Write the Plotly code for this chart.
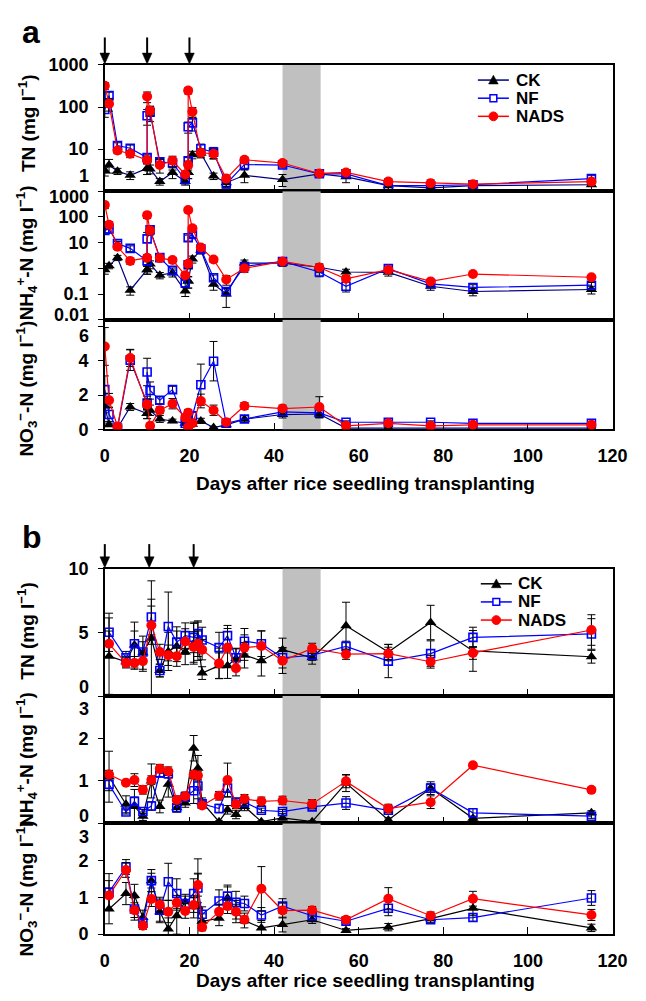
import plotly.graph_objects as go

W, H = 646, 1001

# ---------------- panel a data ----------------
days_a = [0, 1, 3, 6, 10, 10, 10.7, 13, 16, 19, 19.7, 19.7, 20.7, 22.7, 25.7, 28.7, 33, 42, 50.7, 57, 67, 77, 87, 115]

tn_a_ck = [3.1, 4.2, 3.0, 2.4, 3.5, 3.5, 3.4, 1.7, 2.8, 1.7, 2.8, 2.8, 7.4, 8.0, 2.3, 1.6, 2.4, 1.9, 2.6, 2.2, 1.36, 1.2, 1.36, 1.43]
tn_a_nf = [87, 186, 12.2, 10.5, 6.3, 62, 75, 5.0, 4.7, 1.9, 5.3, 34, 42, 10.2, 8.5, 1.5, 4.3, 4.2, 2.6, 2.6, 1.36, 1.36, 1.43, 2.0]
tn_a_nads = [320, 120, 9.3, 7.8, 5.5, 177, 82, 4.2, 5.3, 2.5, 4.2, 245, 77, 8.2, 7.8, 2.0, 5.6, 4.7, 2.65, 2.8, 1.7, 1.56, 1.48, 1.7]
tn_a_ck_err = [0.8, 1.5, 0.5, 0.5, 1, 1, 0.8, 0.3, 0.8, 0.3, 0.8, 0.8, 1.5, 1.5, 0.4, 0.3, 0.8, 0.6, 0.3, 0.6, 0.3, 0.3, 0.3, 0.4]
tn_a_nf_err = [30, 40, 2, 2, 1, 25, 30, 1, 1.5, 0.4, 1, 10, 15, 3, 2.5, 0.3, 1, 0.6, 0.3, 0.5, 0.3, 0.2, 0.2, 0.4]
tn_a_nads_err = [60, 40, 1.5, 1.5, 1, 50, 20, 1.5, 1.5, 0.5, 1, 40, 20, 2, 2, 0.4, 0.8, 0.5, 0.3, 0.4, 0.3, 0.3, 0.2, 0.3]

nh4_a_ck = [0.89, 1.26, 2.6, 0.14, 0.89, 0.89, 1.46, 0.54, 0.66, 0.13, 0.32, 0.32, 2.3, 5.1, 0.24, 0.1, 1.6, 1.6, 1.1, 0.72, 0.7, 0.2, 0.125, 0.15]
nh4_a_nf = [30, 34, 9.2, 6.0, 1.95, 14, 32, 2.6, 0.83, 0.27, 1.37, 15.6, 21, 5.6, 0.43, 0.125, 1.18, 1.85, 0.72, 0.2, 0.97, 0.25, 0.18, 0.22]
nh4_a_nads = [292, 50, 6.9, 1.95, 2.6, 118, 30, 2.5, 2.1, 0.54, 1.5, 188, 36, 6.5, 2.2, 0.37, 1.0, 1.85, 1.08, 0.39, 0.89, 0.31, 0.6, 0.45]
nh4_a_ck_err = [0.3, 0.3, 0.6, 0.05, 0.3, 0.3, 0.5, 0.15, 0.2, 0.05, 0.15, 0.15, 0.7, 1.5, 0.1, 0.07, 0.5, 0.4, 0.4, 0.2, 0.2, 0.06, 0.04, 0.05]
nh4_a_nf_err = [8, 10, 2, 1.5, 0.6, 11, 10, 0.6, 0.2, 0.08, 0.4, 4, 5, 1.2, 0.12, 0.04, 0.3, 0.3, 0.25, 0.08, 0.2, 0.06, 0.05, 0.06]
nh4_a_nads_err = [80, 15, 1.5, 0.5, 0.8, 30, 10, 0.5, 0.5, 0.15, 0.5, 40, 10, 1.5, 0.5, 0.15, 0.3, 0.4, 0.3, 0.1, 0.2, 0.05, 0.1, 0.08]

no3_a_ck = [1.37, 0.27, 0.08, 1.31, 0.93, 0.93, 1.12, 0.61, 0.5, 0.36, 0.04, 0.04, 0.3, 0.5, 0.11, 0.27, 0.6, 0.87, 0.9, 0.08, 0.08, 0.08, 0.08, 0.08]
no3_a_nf = [2.32, 0.87, 0.08, 4.04, 1.54, 3.35, 2.27, 1.7, 2.32, 0.36, 0.5, 0.08, 0.8, 2.61, 3.98, 0.36, 0.61, 1.03, 0.97, 0.42, 0.42, 0.42, 0.36, 0.36]
no3_a_nads = [4.84, 1.7, 0.17, 4.17, 1.45, 1.45, 0.21, 1.12, 1.5, 0.69, 0.97, 0.13, 0.36, 1.66, 1.12, 0.42, 1.37, 1.22, 1.31, 0.21, 0.36, 0.21, 0.27, 0.27]
no3_a_ck_err = [0.4, 0.1, 0.05, 0.2, 0.3, 0.3, 0.3, 0.2, 0.1, 0.1, 0.03, 0.03, 0.1, 0.15, 0.05, 0.1, 0.2, 0.2, 0.2, 0.04, 0.04, 0.04, 0.04, 0.04]
no3_a_nf_err = [0.8, 0.4, 0.05, 0.6, 0.4, 0.8, 0.5, 0.2, 0.2, 0.1, 0.1, 0.05, 0.2, 1.2, 1.15, 0.1, 0.2, 0.2, 0.3, 0.08, 0.08, 0.08, 0.08, 0.08]
no3_a_nads_err = [1.1, 0.4, 0.1, 0.5, 0.3, 0.3, 0.1, 0.2, 0.3, 0.2, 0.2, 0.05, 0.1, 0.4, 0.3, 0.1, 0.2, 0.2, 0.6, 0.08, 0.08, 0.06, 0.06, 0.06]

# ---------------- panel b data ----------------
days_b = [1, 5, 7, 9, 11, 13, 15, 17, 19, 21, 22, 23, 27, 29, 31, 33, 37, 42, 49, 57, 67, 77, 87, 115]

tn_b_ck = [3.13, 2.69, 4.0, 3.4, 4.54, 2.0, 3.5, 3.9, 3.46, 4.1, 4.3, 1.8, 2.38, 2.38, 2.95, 3.2, 2.77, 3.64, 3.0, 5.51, 3.46, 5.77, 3.54, 3.08]
tn_b_nf = [5.0, 3.0, 4.1, 3.46, 6.2, 2.0, 5.46, 4.23, 4.74, 4.6, 4.9, 4.4, 3.8, 4.74, 3.0, 4.3, 4.1, 3.0, 3.2, 3.9, 2.74, 3.33, 4.6, 4.87]
tn_b_nads = [4.1, 2.6, 2.6, 2.74, 5.56, 3.46, 3.2, 3.13, 4.28, 3.85, 4.1, 3.64, 2.56, 3.8, 2.18, 3.8, 3.92, 2.77, 3.74, 3.28, 3.33, 2.69, 3.38, 5.18]
tn_b_ck_err = [3.0, 0.4, 1.8, 1.3, 4.5, 0.5, 1.5, 1.2, 1.0, 1.6, 1.5, 0.5, 1.0, 1.0, 0.8, 1.0, 1.2, 0.9, 0.5, 1.85, 0.6, 1.35, 1.6, 0.5]
tn_b_nf_err = [1.5, 0.5, 1.0, 0.8, 1.4, 0.5, 2.7, 1.2, 1.0, 1.2, 1.0, 1.0, 1.2, 0.8, 0.7, 1.0, 1.0, 0.8, 0.4, 0.4, 1.3, 1.0, 0.8, 1.2]
tn_b_nads_err = [1.0, 0.4, 0.5, 0.8, 1.5, 0.6, 0.8, 0.8, 1.0, 1.2, 1.0, 0.8, 1.2, 1.5, 0.6, 1.0, 1.2, 1.0, 0.4, 0.4, 0.5, 0.5, 0.5, 1.2]

nh4_b_ck = [1.1, 0.45, 0.4, 0.17, 1.0, 0.4, 0.92, 0.37, 0.48, 1.77, 1.3, 0.5, 0.04, 0.32, 0.21, 0.4, 0.04, 0.13, 0.04, 0.95, 0.08, 0.83, 0.12, 0.25]
nh4_b_nf = [0.92, 0.27, 0.52, 0.28, 0.41, 1.19, 1.17, 0.37, 0.62, 0.77, 0.88, 0.46, 0.35, 0.83, 0.5, 0.5, 0.31, 0.28, 0.39, 0.48, 0.31, 0.83, 0.25, 0.17]
nh4_b_nads = [1.15, 0.96, 1.02, 0.79, 1.02, 1.29, 1.23, 0.55, 0.64, 1.15, 1.13, 0.42, 0.65, 1.02, 0.45, 0.58, 0.52, 0.54, 0.46, 0.99, 0.35, 0.5, 1.37, 0.79]
nh4_b_ck_err = [0.6, 0.2, 0.4, 0.1, 0.4, 0.15, 0.3, 0.1, 0.1, 0.3, 0.3, 0.1, 0.02, 0.1, 0.1, 0.1, 0.02, 0.05, 0.02, 0.2, 0.05, 0.15, 0.05, 0.05]
nh4_b_nf_err = [0.15, 0.05, 0.1, 0.05, 0.1, 0.1, 0.1, 0.1, 0.1, 0.3, 0.3, 0.05, 0.1, 0.2, 0.1, 0.1, 0.05, 0.05, 0.05, 0.15, 0.05, 0.1, 0.1, 0.05]
nh4_b_nads_err = [0.1, 0.05, 0.15, 0.1, 0.1, 0.1, 0.1, 0.1, 0.1, 0.1, 0.1, 0.05, 0.1, 0.4, 0.1, 0.1, 0.1, 0.1, 0.1, 0.15, 0.1, 0.15, 0.05, 0.05]

no3_b_ck = [0.68, 1.1, 1.05, 0.45, 1.45, 0.61, 0.14, 0.5, 0.88, 0.74, 0.74, 0.35, 0.43, 0.98, 0.61, 0.37, 0.17, 0.26, 0.39, 0.1, 0.19, 0.42, 0.7, 0.17]
no3_b_nf = [1.14, 1.82, 0.68, 0.3, 1.45, 0.65, 1.42, 1.1, 0.83, 1.1, 1.25, 0.54, 0.9, 1.03, 0.86, 0.83, 0.52, 0.76, 0.5, 0.35, 0.7, 0.39, 0.45, 0.98]
no3_b_nads = [1.05, 1.74, 0.65, 0.23, 0.95, 0.8, 0.61, 0.85, 0.63, 0.79, 1.33, 0.19, 0.61, 0.76, 0.61, 0.39, 1.23, 0.64, 0.65, 0.39, 0.96, 0.5, 0.96, 0.52]
no3_b_ck_err = [0.4, 0.3, 0.3, 0.2, 0.2, 0.3, 0.3, 0.5, 0.2, 0.3, 1.3, 0.2, 0.2, 0.3, 0.3, 0.2, 0.2, 0.2, 0.1, 0.05, 0.1, 0.1, 0.2, 0.1]
no3_b_nf_err = [0.5, 0.2, 0.3, 0.1, 0.3, 0.3, 0.5, 0.4, 0.2, 0.4, 0.4, 0.2, 0.3, 0.3, 0.3, 0.2, 0.2, 0.2, 0.1, 0.1, 0.2, 0.1, 0.1, 0.2]
no3_b_nads_err = [0.4, 0.2, 0.2, 0.1, 0.2, 0.2, 0.3, 0.2, 0.2, 0.2, 0.3, 0.1, 0.2, 0.2, 0.2, 0.1, 0.6, 0.2, 0.1, 0.08, 0.3, 0.1, 0.2, 0.15]

series_names = ["CK", "NF", "NADS"]
fert_days_a = [0, 10, 20]
fert_days_b = [0, 10.5, 21]
band_days = [42, 51]
x_ticks = [0, 20, 40, 60, 80, 100, 120]
x_label = "Days after rice seedling transplanting"

# ---------------- styling ----------------
FONT = "Liberation Sans, Arial, Helvetica, sans-serif"
NAVY = "#000080"
RED = "#FF0000"
BLUE = "#0000FF"
BAND = "#C0C0C0"


def pxx(px):
    return px / W


def pxy(py):
    return (H - py) / H


X0, X1 = 103, 627
XMAX = 120

panels = [
    dict(days=days_a, vals=[tn_a_ck, tn_a_nf, tn_a_nads], errs=[tn_a_ck_err, tn_a_nf_err, tn_a_nads_err],
         top=56, bot=185, type="log", rng=[0, 3], band=[1, 1000],
         tv=[10, 100, 1000], minor=[1], ckline=NAVY),
    dict(days=days_a, vals=[nh4_a_ck, nh4_a_nf, nh4_a_nads], errs=[nh4_a_ck_err, nh4_a_nf_err, nh4_a_nads_err],
         top=185, bot=316, type="log", rng=[-2, 3], band=[0.01, 1000],
         tv=[0.1, 1, 10, 100], minor=[0.01, 1000], ckline=NAVY),
    dict(days=days_a, vals=[no3_a_ck, no3_a_nf, no3_a_nads], errs=[no3_a_ck_err, no3_a_nf_err, no3_a_nads_err],
         top=316, bot=428, type="linear", rng=[0, 6.4], band=[0, 6.4],
         tv=[0, 2, 4], minor=[6], ckline=NAVY),
    dict(days=days_b, vals=[tn_b_ck, tn_b_nf, tn_b_nads], errs=[tn_b_ck_err, tn_b_nf_err, tn_b_nads_err],
         top=570, bot=700, type="linear", rng=[0, 10], band=[0, 10],
         tv=[5, 10], minor=[0], ckline="#000000"),
    dict(days=days_b, vals=[nh4_b_ck, nh4_b_nf, nh4_b_nads], errs=[nh4_b_ck_err, nh4_b_nf_err, nh4_b_nads_err],
         top=700, bot=830, type="linear", rng=[0, 3], band=[0, 3],
         tv=[1, 2], minor=[0, 3], ckline="#000000"),
    dict(days=days_b, vals=[no3_b_ck, no3_b_nf, no3_b_nads], errs=[no3_b_ck_err, no3_b_nf_err, no3_b_nads_err],
         top=830, bot=943, type="linear", rng=[0, 3], band=[0, 3],
         tv=[0, 1, 2], minor=[3], ckline="#000000"),
]

fig = go.Figure()
layout = dict(
    width=W, height=H, margin=dict(l=0, r=0, t=0, b=0),
    paper_bgcolor="white", plot_bgcolor="white", showlegend=False,
    font=dict(family=FONT, size=18, color="black"),
)

for i, p in enumerate(panels):
    n = "" if i == 0 else str(i + 1)
    xa, ya = "x" + n, "y" + n
    # grey shaded period
    fig.add_trace(go.Scatter(
        x=[band_days[0], band_days[1], band_days[1], band_days[0], band_days[0]],
        y=[p["band"][0], p["band"][0], p["band"][1], p["band"][1], p["band"][0]],
        fill="toself", fillcolor=BAND, mode="lines", line=dict(width=0, color=BAND),
        hoverinfo="skip", xaxis=xa, yaxis=ya))
    styles = [
        dict(line=dict(color=p["ckline"], width=1.2),
             marker=dict(symbol="triangle-up", size=10, color="black")),
        dict(line=dict(color=BLUE, width=1.2),
             marker=dict(symbol="square-open", size=8, color=BLUE, line=dict(width=1.6, color=BLUE))),
        dict(line=dict(color=RED, width=1.2),
             marker=dict(symbol="circle", size=10, color=RED)),
    ]
    for k in range(3):
        fig.add_trace(go.Scatter(
            x=p["days"], y=p["vals"][k], name=series_names[k], mode="lines+markers",
            line=styles[k]["line"], marker=styles[k]["marker"],
            error_y=dict(type="data", array=p["errs"][k], color="black", thickness=1, width=4),
            xaxis=xa, yaxis=ya))
    bottom = i in (2, 5)
    layout["xaxis" + n] = dict(
        domain=[pxx(X0), pxx(X1)], anchor=ya, range=[0, XMAX],
        tickvals=x_ticks, ticks="inside", ticklen=7, tickwidth=1, tickcolor="black",
        showticklabels=bottom, tickfont=dict(family=FONT, size=18, weight="bold"),
        ticklabelstandoff=9,
        showline=True, linecolor="black", linewidth=1.5, mirror=True,
        showgrid=False, zeroline=False, layer="below traces")
    layout["yaxis" + n] = dict(
        domain=[pxy(p["bot"]), pxy(p["top"])], anchor=xa, type=p["type"], range=p["rng"],
        tickvals=p["tv"], ticks="outside", ticklen=5, tickwidth=1, tickcolor="black",
        minor=dict(tickvals=p["minor"], ticks="outside", ticklen=5, tickwidth=1, tickcolor="black",
                   showgrid=False),
        tickfont=dict(family=FONT, size=18, weight="bold"), ticklabelstandoff=6,
        showline=True, linecolor="black", linewidth=1.5, mirror=True,
        showgrid=False, zeroline=False, layer="below traces")

ann = []
shapes = []

# panel letters
ann.append(dict(text="<b>a</b>", x=pxx(27), y=pxy(22), xref="paper", yref="paper", showarrow=False,
                font=dict(family=FONT, size=32), xanchor="center", yanchor="middle"))
ann.append(dict(text="<b>b</b>", x=pxx(28), y=pxy(538), xref="paper", yref="paper", showarrow=False,
                font=dict(family=FONT, size=32), xanchor="center", yanchor="middle"))


# fertilization arrows (placed at the fertilization days along the day axis)
def arrow(day, y_tail, y_tip):
    xc = X0 + day * (X1 - X0) / XMAX
    shapes.append(dict(type="line", xref="paper", yref="paper", x0=pxx(xc), x1=pxx(xc),
                       y0=pxy(y_tail), y1=pxy(y_tip - 8), line=dict(color="black", width=2), layer="above"))
    path = "M {:.5f},{:.5f} L {:.5f},{:.5f} L {:.5f},{:.5f} Z".format(
        pxx(xc - 5), pxy(y_tip - 11), pxx(xc + 5), pxy(y_tip - 11), pxx(xc), pxy(y_tip))
    shapes.append(dict(type="path", xref="paper", yref="paper", path=path, fillcolor="black",
                       line=dict(color="black", width=0.5), layer="above"))


for d in fert_days_a:
    arrow(d, 28, 55)
for d in fert_days_b:
    arrow(d, 545, 569)

# y-axis titles
ytitles = [
    ("TN (mg l<sup>−1</sup>)", 115),
    ("NH<sub>4</sub><sup>+</sup>-N (mg l<sup>−1</sup>)", 248),
    ("NO<sub>3</sub><sup>−</sup>-N (mg l<sup>−1</sup>)", 386),
    ("TN (mg l<sup>−1</sup>)", 633),
    ("NH<sub>4</sub><sup>+</sup>-N (mg l<sup>−1</sup>)", 765),
    ("NO<sub>3</sub><sup>−</sup>-N (mg l<sup>−1</sup>)", 896),
]
for t, yc in ytitles:
    ann.append(dict(text="<b>" + t + "</b>", x=pxx(22), y=pxy(yc), xref="paper", yref="paper",
                    showarrow=False, textangle=-90, font=dict(family=FONT, size=19),
                    xanchor="center", yanchor="middle"))

# x-axis titles
for yc in (483, 990):
    ann.append(dict(text="<b>" + x_label + "</b>", x=pxx(372), y=pxy(yc), xref="paper", yref="paper",
                    showarrow=False, font=dict(family=FONT, size=19), xanchor="center", yanchor="middle"))

# tick labels at panel joins (offset to avoid overlap, as in the original)
for t, yc in [("1", 169), ("1000", 191), ("0.01", 311), ("6", 333),
              ("0", 691), ("3", 713), ("0", 822), ("3", 844)]:
    ann.append(dict(text="<b>" + t + "</b>", x=pxx(89), y=pxy(yc), xref="paper", yref="paper",
                    showarrow=False, font=dict(family=FONT, size=18), xanchor="right", yanchor="middle"))


# legend keys
def legend_block(x_line0, x_line1, x_text, rows, ck_color):
    colors = [ck_color, BLUE, RED]
    for k, yc in enumerate(rows):
        shapes.append(dict(type="line", xref="paper", yref="paper", x0=pxx(x_line0), x1=pxx(x_line1),
                           y0=pxy(yc), y1=pxy(yc), line=dict(color=colors[k], width=1.5), layer="above"))
        cx = (x_line0 + x_line1) / 2
        if k == 0:
            path = "M {:.5f},{:.5f} L {:.5f},{:.5f} L {:.5f},{:.5f} Z".format(
                pxx(cx - 5), pxy(yc + 4), pxx(cx + 5), pxy(yc + 4), pxx(cx), pxy(yc - 5))
            shapes.append(dict(type="path", xref="paper", yref="paper", path=path,
                               fillcolor="black", line=dict(color="black", width=0.5), layer="above"))
        elif k == 1:
            shapes.append(dict(type="rect", xref="paper", yref="paper", x0=pxx(cx - 3.5), x1=pxx(cx + 3.5),
                               y0=pxy(yc + 3.5), y1=pxy(yc - 3.5), fillcolor="white",
                               line=dict(color=BLUE, width=1.5), layer="above"))
        else:
            shapes.append(dict(type="circle", xref="paper", yref="paper", x0=pxx(cx - 4.5), x1=pxx(cx + 4.5),
                               y0=pxy(yc + 4.5), y1=pxy(yc - 4.5), fillcolor=RED,
                               line=dict(color=RED, width=1), layer="above"))
        ann.append(dict(text="<b>" + series_names[k] + "</b>", x=pxx(x_text), y=pxy(yc), xref="paper",
                        yref="paper", showarrow=False, font=dict(family=FONT, size=17),
                        xanchor="left", yanchor="middle"))


legend_block(488, 520, 525, [71.5, 90, 108.5], NAVY)
legend_block(491, 523, 527, [585.5, 604, 622.5], "#000000")

layout["annotations"] = ann
layout["shapes"] = shapes
fig.update_layout(**layout)
fig.write_html(
    "out.html",
    config={"displayModeBar": False},
    post_script=(
        "var gd=document.getElementById('{plot_id}');"
        "document.documentElement.style.margin='0';document.body.style.margin='0';"
        "document.body.style.padding='0';document.documentElement.style.overflow='hidden';"
        "gd.style.position='fixed';gd.style.left='0px';gd.style.top='0px';"
    ),
)
